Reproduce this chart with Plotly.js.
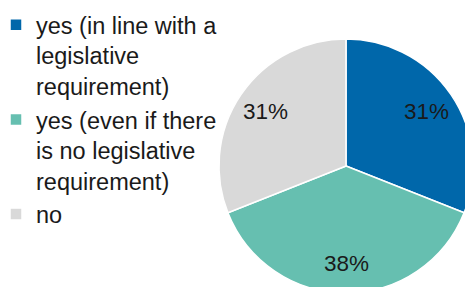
<!DOCTYPE html>
<html>
<head>
<meta charset="utf-8">
<script src="https://cdn.plot.ly/plotly-3.0.1.min.js"></script>
<style>
html, body { margin: 0; padding: 0; overflow: hidden; background: #ffffff; width: 465px; height: 287px; }
#chart { width: 520px; height: 340px; }
</style>
</head>
<body>
<div id="chart"></div>
<script>
var categories = [
  "yes (in line with a<br>legislative<br>requirement)",
  "yes (even if there<br>is no legislative<br>requirement)",
  "no"
];
var shares = [31, 38, 31];
var sliceColors = ["#0067aa", "#66bfb0", "#d9d9d9"];

var W = 520, H = 340;
var FONT = "Liberation Sans, Arial, sans-serif";
var trace = {
  type: "pie",
  labels: categories,
  values: shares,
  sort: false,
  direction: "clockwise",
  rotation: 0,
  marker: { colors: sliceColors, line: { color: "#ffffff", width: 1.5 } },
  textposition: "none",
  hoverinfo: "none",
  domain: { x: [219 / W, 473 / W], y: [1 - 293 / H, 1 - 39 / H] }
};

var layout = {
  width: W,
  height: H,
  autosize: false,
  margin: { l: 0, r: 0, t: 0, b: 0, pad: 0, autoexpand: false },
  paper_bgcolor: "#ffffff",
  showlegend: true,
  legend: {
    x: 0,
    xanchor: "left",
    y: 1 - 3 / H,
    yanchor: "top",
    valign: "top",
    indentation: -4,
    font: { family: FONT, size: 23.5, color: "#1a1a1a" },
    bgcolor: "rgba(0,0,0,0)",
    traceorder: "normal"
  }
};

var gd = document.getElementById("chart");
Plotly.newPlot(gd, [trace], layout, { displayModeBar: false, staticPlot: true }).then(function () {
  var cd0 = gd.calcdata[0][0];
  var cx = cd0.cx, cy = cd0.cy, r = cd0.r;
  var total = shares.reduce(function (a, b) { return a + b; }, 0);
  var cum = 0;
  var labelRadius = 0.77;
  var anns = shares.map(function (v) {
    var theta = 2 * Math.PI * (cum + v / 2) / total;
    cum += v;
    var px = cx + labelRadius * r * Math.sin(theta);
    var py = cy - labelRadius * r * Math.cos(theta);
    return {
      xref: "paper", yref: "paper",
      x: px / W, y: 1 - py / H,
      xanchor: "center", yanchor: "middle",
      text: Math.round(100 * v / total) + "%",
      showarrow: false,
      font: { family: FONT, size: 22.5, color: "#1a1a1a" }
    };
  });
  return Plotly.relayout(gd, { annotations: anns });
});
</script>
</body>
</html>
